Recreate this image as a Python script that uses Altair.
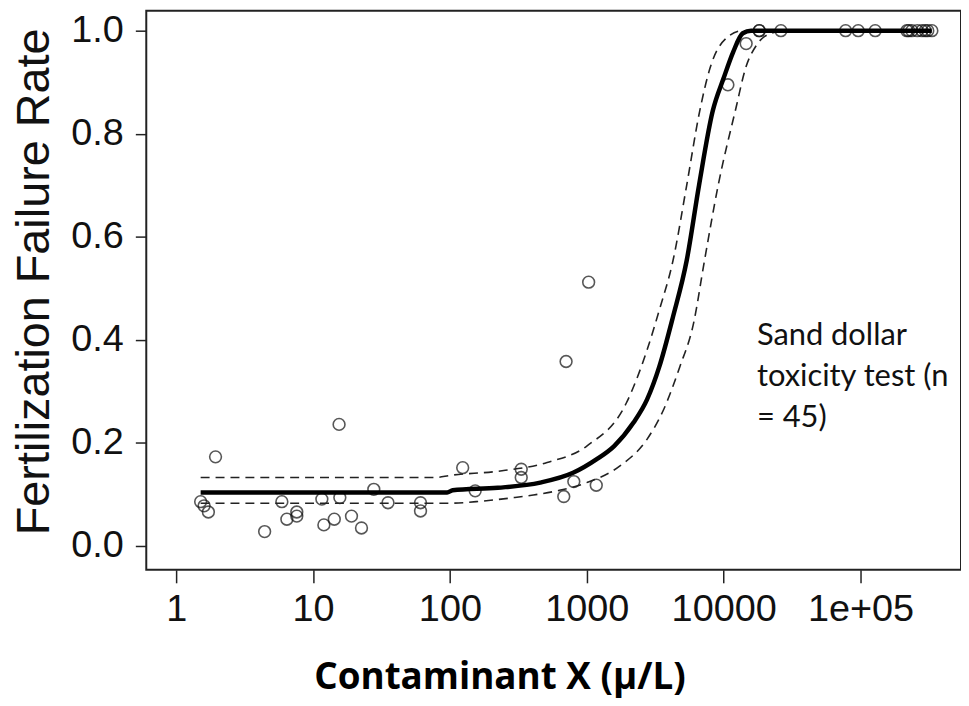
import altair as alt
import pandas as pd

# observed points (concentration, failure rate)
obs_x = [1.51, 1.60, 1.72, 1.94, 4.43, 5.92, 6.44, 7.61, 7.61, 11.6, 12.0, 14.3,
         15.5, 15.7, 19.1, 22.6, 27.8, 35.3, 61.0, 61.0,
         124, 153, 332, 332, 679, 706, 804, 1032, 1173,
         10740, 14600, 18200, 18200, 26200, 77800, 96200, 128000,
         218000, 225000, 237000, 260000, 281000, 297000, 310000, 332000]
obs_y = [0.086, 0.078, 0.066, 0.173, 0.028, 0.086, 0.052, 0.058, 0.066, 0.091, 0.041, 0.052,
         0.236, 0.094, 0.058, 0.035, 0.110, 0.084, 0.084, 0.068,
         0.152, 0.107, 0.149, 0.133, 0.096, 0.358, 0.125, 0.512, 0.118,
         0.895, 0.975, 1.0, 1.0, 1.0, 1.0, 1.0, 1.0,
         1.0, 1.0, 1.0, 1.0, 1.0, 1.0, 1.0, 1.0]

# fitted dose-response curve
fit_x = [1.51, 95.5, 104.7, 224, 457, 794, 1175, 1585, 2188, 2754, 3388, 4266,
         5370, 6607, 8318, 10000, 11750, 13800, 15850, 331000]
fit_y = [0.104, 0.104, 0.108, 0.113, 0.123, 0.142, 0.168, 0.194, 0.239, 0.284, 0.348, 0.445,
         0.554, 0.700, 0.844, 0.908, 0.959, 0.995, 1.0, 1.0]

# upper confidence band
up_x = [1.51, 79.4, 100, 224, 513, 1000, 1950, 2754, 3388, 4266, 5370, 6683,
        7943, 10720, 13800, 331000]
up_y = [0.133, 0.133, 0.137, 0.145, 0.162, 0.194, 0.278, 0.380, 0.458, 0.554, 0.700, 0.844,
        0.927, 0.988, 1.0, 1.0]

# lower confidence band
lo_x = [1.51, 100, 170, 295, 407, 631, 1000, 1738, 2754, 3631, 4786, 6026, 7244,
        9120, 12300, 14450, 17380, 20890, 28180, 331000]
lo_y = [0.083, 0.083, 0.087, 0.094, 0.099, 0.108, 0.123, 0.155, 0.207, 0.264, 0.348, 0.432, 0.554,
        0.700, 0.850, 0.927, 0.972, 0.992, 1.0, 1.0]

x_ticks = [1, 10, 100, 1000, 10000, 100000]
y_ticks = [0.0, 0.2, 0.4, 0.6, 0.8, 1.0]
note = "Sand dollar\ntoxicity test (n\n= 45)"

obs = pd.DataFrame({"x": obs_x, "y": obs_y})
fit = pd.DataFrame({"x": fit_x, "y": fit_y})
up = pd.DataFrame({"x": up_x, "y": up_y})
lo = pd.DataFrame({"x": lo_x, "y": lo_y})
ann = pd.DataFrame({"x": [17500], "y": [0.407], "t": [note]})

tick_font = "Liberation Sans, Arial, sans-serif"

xs = alt.Scale(type="log", domain=[0.605, 542000], nice=False, clamp=False)
ys = alt.Scale(domain=[-0.0463, 1.0386], nice=False, zero=False)

xax = alt.Axis(values=x_ticks,
               labelExpr="datum.value >= 100000 ? '1e+05' : format(datum.value, 'd')",
               title="Contaminant X (\u03bc/L)", grid=False, domain=False,
               tickColor="#222", tickWidth=1.5, tickSize=13, labelPadding=8,
               labelFont=tick_font, labelFontSize=38, labelColor="#111",
               titleFont="Open Sans", titleFontWeight="bold", titleFontSize=37, titleColor="#000",
               titleX=355, titleY=108, titleBaseline="middle", titleAlign="center")
yax = alt.Axis(values=y_ticks, format=".1f", title="Fertilization Failure Rate",
               grid=False, domain=False,
               tickColor="#222", tickWidth=1.5, tickSize=11, labelPadding=12,
               labelFont=tick_font, labelFontSize=38, labelColor="#111",
               titleFont="Liberation Sans", titleFontWeight="normal", titleFontSize=47,
               titleColor="#111", titleX=-112, titleY=272, titleBaseline="middle",
               titleAlign="center", titleAngle=270)

X = alt.X("x:Q", scale=xs, axis=xax)
Y = alt.Y("y:Q", scale=ys, axis=yax)

points = alt.Chart(obs).mark_point(shape="circle", filled=False, size=140,
                                   stroke="#111", strokeWidth=1.6, clip=True).encode(x=X, y=Y)
dash_up = alt.Chart(up).mark_line(color="#222", strokeWidth=1.6, strokeDash=[9, 6],
                                  interpolate="monotone").encode(x=X, y=Y)
dash_lo = alt.Chart(lo).mark_line(color="#222", strokeWidth=1.6, strokeDash=[9, 6],
                                  interpolate="monotone").encode(x=X, y=Y)
line = alt.Chart(fit).mark_line(color="#000", strokeWidth=4.5,
                                interpolate="monotone").encode(x=X, y=Y)
text = alt.Chart(ann).mark_text(align="left", baseline="middle", font="Lato", fontSize=31,
                                lineHeight=41, lineBreak="\n", color="#111").encode(
    x=X, y=Y, text="t:N")

chart = alt.layer(points, dash_up, dash_lo, line, text).properties(
    width=819, height=562,
    autosize=alt.AutoSizeParams(type="none"),
    padding={"left": 139, "top": 1, "right": 0, "bottom": 127},
    background="white",
).configure_view(stroke="#222", strokeWidth=2)

chart.save("out.html", embed_options={"renderer": "svg", "actions": False})
